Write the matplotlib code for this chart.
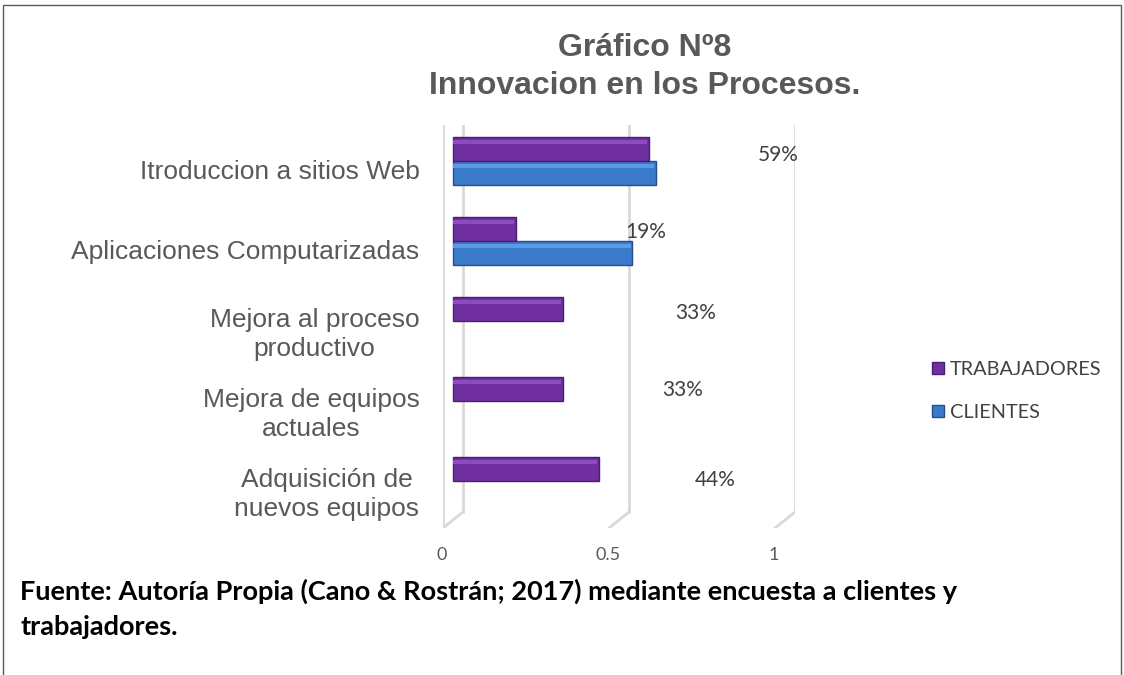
import numpy as np
import matplotlib.pyplot as plt
from matplotlib.patches import Patch, Rectangle
from matplotlib.transforms import ScaledTranslation

# Datos
categorias = ['Adquisición de\nnuevos equipos', 'Mejora de equipos\nactuales',
              'Mejora al proceso\nproductivo', 'Aplicaciones Computarizadas',
              'Itroduccion a sitios Web']
trabajadores = [0.44, 0.33, 0.33, 0.19, 0.59]
clientes = [0.0, 0.0, 0.0, 0.54, 0.61]
etiquetas = ['44%', '33%', '33%', '19%', '59%']
# posicion de las etiquetas (como en la grafica original)
etiq_x = [0.79, 0.69, 0.73, 0.58, 0.98]
etiq_y = [0.01, 1.14, 2.10, 3.11, 4.075]

fig = plt.figure(figsize=(11.24, 6.75), dpi=100)
ax = fig.add_axes([443 / 1124, 147 / 675, 352 / 1124, 403 / 675])
ax.set_xlim(-0.03, 1.03)
ax.set_ylim(-0.5875, 4.45)

y = np.arange(len(categorias))
h = 0.3
grid_c = '#d9d9d9'
piso = -0.3875

# paredes / lineas de cuadricula en "3D"
ax.plot([-0.03, -0.03], [ax.get_ylim()[0], 4.45], color=grid_c, lw=2, zorder=1)
for v in [0, 0.5, 1]:
    ax.plot([v + 0.03, v + 0.03], [piso, 4.45], color=grid_c, lw=2, zorder=1)
    ax.plot([v + 0.03, v - 0.03], [piso, ax.get_ylim()[0]], color=grid_c, lw=2, zorder=1)

# barras
cl = np.array(clientes)
mask = cl > 0
ax.barh(y[mask] - h / 2, cl[mask], height=h, color='#3a7bcc',
        edgecolor='#24508a', lw=1, zorder=3)
ax.barh(y[mask] - h / 2 + h * 0.28, cl[mask] - 0.005, height=h * 0.18,
        color='#5b9be6', lw=0, zorder=4)
ax.barh(y + h / 2, trabajadores, height=h, color='#7030a0',
        edgecolor='#4a1d6e', lw=1, zorder=3)
ax.barh(y + h / 2 + h * 0.28, np.array(trabajadores) - 0.005, height=h * 0.18,
        color='#8c4cbf', lw=0, zorder=4)

for tx, ty, t in zip(etiq_x, etiq_y, etiquetas):
    ax.text(tx, ty, t, ha='center', va='center', fontsize=15,
            color='#404040', family='Lato')

# ejes
ax.set_xticks([0, 0.5, 1])
ax.set_xticklabels(['0', '0.5', '1'])
ax.set_yticks(y)
ax.set_yticklabels(categorias)
ax.tick_params(axis='x', length=0, pad=14, labelsize=13, labelcolor='#595959')
ax.tick_params(axis='y', length=0, pad=17, labelsize=19, labelcolor='#595959')
off_x = ScaledTranslation(-8 / 72, 0, fig.dpi_scale_trans)
for lab in ax.get_xticklabels():
    lab.set_transform(lab.get_transform() + off_x)
    lab.set_family('Lato')
off_y = ScaledTranslation(0, -6 / 72, fig.dpi_scale_trans)
for lab in ax.get_yticklabels():
    lab.set_transform(lab.get_transform() + off_y)
    lab.set_family('Liberation Sans')
    lab.set_multialignment('center')
    lab.set_linespacing(1.25)
for s in ax.spines.values():
    s.set_visible(False)

# titulo
fig.text(645 / 1124, 1 - 48 / 675, 'Gráfico Nº8', ha='center', va='center',
         fontsize=23, fontweight='bold', color='#595959', family='Liberation Sans')
fig.text(645 / 1124, 1 - 86 / 675, 'Innovacion en los Procesos.', ha='center',
         va='center', fontsize=23, fontweight='bold', color='#595959',
         family='Liberation Sans')

# leyenda
handles = [Patch(facecolor='#7030a0', edgecolor='#4a1d6e'),
           Patch(facecolor='#3a7bcc', edgecolor='#24508a')]
fig.legend(handles, ['TRABAJADORES', 'CLIENTES'], loc='center left',
           bbox_to_anchor=(914 / 1124, 1 - 391 / 675), frameon=False,
           labelspacing=1.3, handlelength=0.6, handleheight=0.6,
           handletextpad=0.3, prop={'family': 'Lato', 'size': 14.3},
           labelcolor='#404040')

# fuente
fig.text(20 / 1124, 1 - 609 / 675,
         'Fuente: Autoría Propia (Cano & Rostrán; 2017) mediante encuesta a clientes y\ntrabajadores.',
         ha='left', va='center', fontsize=19.5, fontweight='bold', color='black',
         family='Lato', linespacing=1.55)

# marco
fig.patches.append(Rectangle((3 / 1124, -0.02), 1118 / 1124, 1 - 5 / 675 + 0.02,
                             transform=fig.transFigure, fill=False,
                             edgecolor='#595959', lw=1))

fig.savefig('out.png', dpi=100)
